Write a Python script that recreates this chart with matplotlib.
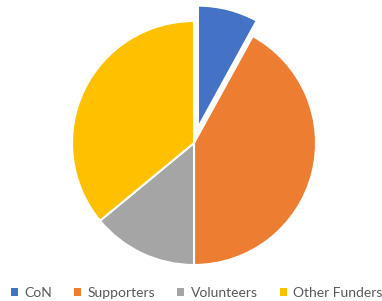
import matplotlib
matplotlib.use("Agg")
import matplotlib.pyplot as plt
from matplotlib.patches import Rectangle

# data (share in %)
labels = ["CoN", "Supporters", "Volunteers", "Other Funders"]
values = [8, 42, 14, 36]
colors = ["#4472C4", "#ED7D31", "#A5A5A5", "#FFC000"]
explode = [0.13, 0, 0, 0]

plt.rcParams['font.family'] = ['Lato', 'DejaVu Sans']

fig = plt.figure(figsize=(3.82, 3.01), dpi=100)
ax = fig.add_axes([0, 0, 1, 1])

ax.pie(values, colors=colors, explode=explode, startangle=90, counterclock=False,
       wedgeprops=dict(edgecolor="white", linewidth=1.5))

# pie centre at (194,143) px from top-left, radius 122 px
r = 122.0
ax.set_aspect('auto')
ax.set_xlim(-194 / r, (382 - 194) / r)
ax.set_ylim(-158 / r, (301 - 158) / r)
ax.axis('off')

handles = [Rectangle((0, 0), 1, 1, facecolor=c, edgecolor='none') for c in colors]
leg = fig.legend(handles, labels, loc='center', bbox_to_anchor=(0.515, 0.027), ncol=4,
                 frameon=False, fontsize=10, handlelength=0.5, handleheight=0.5,
                 handletextpad=0.45, columnspacing=1.6, borderaxespad=0)
for t in leg.get_texts():
    t.set_color('#595959')

fig.savefig("out.png", dpi=100)
